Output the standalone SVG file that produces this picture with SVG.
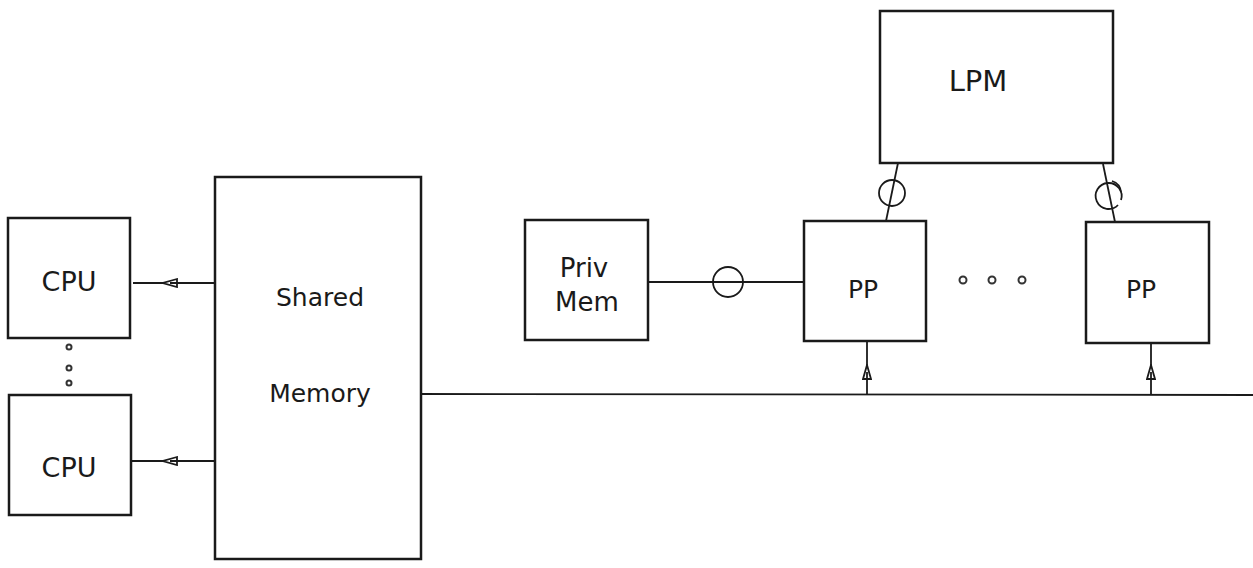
<svg xmlns="http://www.w3.org/2000/svg" width="1253" height="568" viewBox="0 0 1253 568">
<style>
.box{fill:none;stroke:#1a1a1a;stroke-width:2.5}
.ln{fill:none;stroke:#1a1a1a;stroke-width:1.8}
.t{font-family:"DejaVu Sans","Liberation Sans",sans-serif;fill:#1a1a1a;text-anchor:middle}
.dot{fill:none;stroke:#333;stroke-width:2}
</style>
<defs>
<marker id="tri" viewBox="0 0 16 10" refX="8" refY="5" markerWidth="16" markerHeight="10" markerUnits="userSpaceOnUse" orient="auto">
<path d="M15,1 L1,5 L15,9 Z" fill="#fff" stroke="#1a1a1a" stroke-width="1.8"/>
</marker>
</defs>
<rect width="1253" height="568" fill="#fff"/>
<g id="connectors">
<path class="ln" d="M133,283 L170,283" marker-end="url(#tri)"/>
<path class="ln" d="M170,283 L214,283"/>
<path class="ln" d="M132,461 L170,461" marker-end="url(#tri)"/>
<path class="ln" d="M170,461 L214,461"/>
<path class="ln" d="M421,394 L1253,395"/>
<path class="ln" d="M867,342 L867,372" marker-end="url(#tri)"/>
<path class="ln" d="M867,372 L867,395"/>
<path class="ln" d="M1151,344 L1151,372" marker-end="url(#tri)"/>
<path class="ln" d="M1151,372 L1151,395"/>
<path class="ln" d="M649,282 L804,282"/>
<circle class="ln" cx="728" cy="282" r="15"/>
<path class="ln" d="M898,163 L886,221"/>
<circle class="ln" cx="892" cy="193" r="13"/>
<path class="ln" d="M1103,164 L1115,222"/>
<path class="ln" d="M1121,200 A13,13 0 1 0 1118,205"/>
<path class="ln" d="M1112,181 A13,13 0 0 1 1121,192"/>
</g>
<g id="cpu1"><rect class="box" x="8" y="218" width="122" height="120"/><text class="t" x="69" y="291" font-size="27">CPU</text></g>
<g id="cpu-dots"><circle class="dot" cx="69" cy="347" r="2.5"/><circle class="dot" cx="69" cy="368" r="2.5"/><circle class="dot" cx="69" cy="383" r="2.5"/></g>
<g id="cpu2"><rect class="box" x="9" y="395" width="122" height="120"/><text class="t" x="69" y="477" font-size="27">CPU</text></g>
<g id="shared-memory"><rect class="box" x="215" y="177" width="206" height="382"/><text class="t" x="320" y="306" font-size="25">Shared</text><text class="t" x="320" y="402" font-size="25">Memory</text></g>
<g id="priv-mem"><rect class="box" x="525" y="220" width="123" height="120"/><text class="t" x="584" y="277" font-size="26">Priv</text><text class="t" x="587" y="311" font-size="26">Mem</text></g>
<g id="pp1"><rect class="box" x="804" y="221" width="122" height="120"/><text class="t" x="863" y="298" font-size="25">PP</text></g>
<g id="pp-dots"><circle class="dot" cx="963" cy="280" r="3.5"/><circle class="dot" cx="992" cy="280" r="3.5"/><circle class="dot" cx="1022" cy="280" r="3.5"/></g>
<g id="pp2"><rect class="box" x="1086" y="222" width="123" height="121"/><text class="t" x="1141" y="298" font-size="25">PP</text></g>
<g id="lpm"><rect class="box" x="880" y="11" width="233" height="152"/><text class="t" x="978" y="91" font-size="29">LPM</text></g>
</svg>
